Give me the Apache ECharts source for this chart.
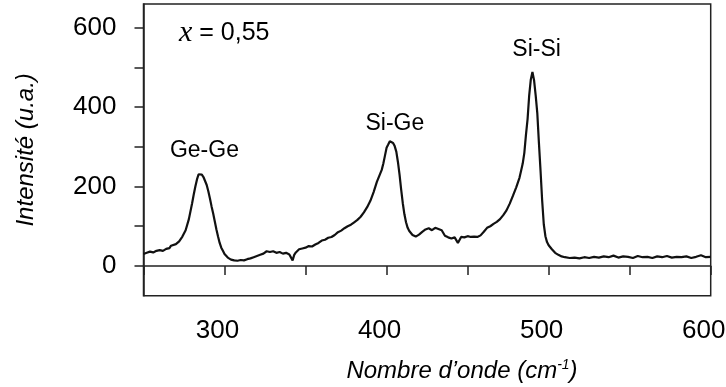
<!DOCTYPE html>
<html>
<head>
<meta charset="utf-8">
<script src="https://cdn.jsdelivr.net/npm/echarts@6/dist/echarts.min.js"></script>
<style>
html,body{margin:0;padding:0;background:#fff;}
#chart{width:726px;height:387px;}
</style>
</head>
<body>
<div id="chart"></div>
<script>
// Raman spectrum, x = 0,55
const wavenumbers = [250,252,254,256,258,260,262,264,266,267,268,270,272,274,276,278,280,281,282,283,284,285,286,287,288,289,290,291,292,293,294,295,296,297,298,299,300,302,304,306,308,310,312,314,316,318,320,322,324,326,327,328,330,332,334,336,338,340,341,342,343,344,346,348,350,352,354,356,358,360,362,364,366,368,370,372,374,376,378,380,382,384,386,388,390,392,394,396,397,398,399,400,401,402,403,404,405,406,407,408,409,410,411,412,413,414,416,418,420,422,424,426,428,430,432,434,436,438,440,442,444,446,448,450,452,454,456,458,460,462,464,466,468,470,472,474,476,478,480,482,483,484,485,486,487,488,489,490,491,492,493,494,495,496,497,498,499,500,502,504,506,508,510,513,516,519,522,525,528,531,534,537,540,543,546,549,552,555,558,561,564,567,570,573,576,579,582,585,588,591,594,597,600];
const intensities = [30,33,36,34,38,40,38,43,45,51,46,55,62,74,90,118,158,180,200,218,231,234,230,224,214,204,188,170,150,132,112,92,74,58,46,38,30,21,16,14,13,15,14,17,19,22,25,28,31,37,41,35,37,33,35,31,33,29,24,14,28,34,42,44,46,50,49,54,58,64,66,71,73,78,85,89,95,100,104,110,116,124,135,148,164,186,212,232,242,258,278,298,306,314,316,310,302,288,262,230,192,158,130,110,96,88,78,74,79,86,92,95,90,96,93,90,76,72,69,72,58,73,72,75,73,74,73,77,86,96,100,106,111,118,128,140,157,177,198,222,240,258,285,330,370,430,470,489,468,430,385,310,240,165,105,75,60,52,42,33,28,24,22,20,21,19,22,20,23,21,24,22,26,21,24,23,20,25,22,23,20,24,22,25,21,23,22,24,20,23,27,22,23];

const xTicks = [300,400,500,600];
const yTicks = [0,100,200,300,400,500,600];
const yTickLabels = [0,200,400,600];

const peakNames = ['Ge-Ge','Si-Ge','Si-Si'];
const peakX = [287.6,405.1,492.6];
const peakY = [291,358,544];

const FONT = '"Liberation Sans", Arial, sans-serif';

const chart = echarts.init(document.getElementById('chart'), null, {renderer:'canvas'});
const seriesData = wavenumbers.map((w,i)=>[w,intensities[i]]);

chart.setOption({
  animation:false,
  backgroundColor:'#fff',
  grid:{left:143.5,right:15.3,top:4,bottom:91.3,show:true,borderColor:'#222',borderWidth:1.5,backgroundColor:'transparent',containLabel:false,outerBoundsMode:'none'},
  xAxis:{
    type:'value',min:250,max:600,interval:50,
    axisLine:{show:true,lineStyle:{color:'#222',width:1.5}},
    axisTick:{show:true,inside:false,length:9,lineStyle:{color:'#222',width:1.5}},
    axisLabel:{
      margin:22,fontSize:26,color:'#000',fontFamily:FONT,hideOverlap:false,
      padding:[0,14,0,0],
      formatter:v=>xTicks.indexOf(v)>=0?String(v):''
    },
    splitLine:{show:false}
  },
  yAxis:{
    type:'value',min:-75,max:660,
    name:'Intensité (u.a.)',nameLocation:'middle',nameGap:105,nameRotate:90,
    nameTextStyle:{fontSize:24,fontStyle:'italic',color:'#000',fontFamily:FONT},
    axisLine:{show:true,lineStyle:{color:'#222',width:1.5}},
    axisTick:{show:true,inside:false,length:9,customValues:yTicks,lineStyle:{color:'#222',width:1.5}},
    axisLabel:{margin:27,fontSize:26,color:'#000',fontFamily:FONT,customValues:yTickLabels},
    splitLine:{show:false}
  },
  series:[{
    type:'line',
    data:seriesData,
    showSymbol:false,
    smooth:false,
    lineStyle:{color:'#111',width:2.2},
    markPoint:{
      symbol:'circle',symbolSize:0,
      label:{show:true,position:'inside',formatter:'{b}',fontSize:23,color:'#000',fontFamily:FONT},
      data:peakNames.map((n,i)=>({name:n,coord:[peakX[i],peakY[i]]}))
    }
  }],
  graphic:[
    {
      type:'text',x:179,y:33,
      style:{
        text:'{v|x}{n| = 0,55}',
        verticalAlign:'middle',align:'left',fill:'#000',
        rich:{
          v:{fontFamily:'"Liberation Serif", "Times New Roman", serif',fontStyle:'italic',fontSize:30,fill:'#000'},
          n:{fontFamily:FONT,fontSize:25,fill:'#000'}
        }
      }
    },
    {
      type:'text',x:462,y:371,
      style:{
        text:'{a|Nombre d’onde (cm}{s|-1}{a|)}',
        align:'center',verticalAlign:'middle',fill:'#000',
        rich:{
          a:{fontFamily:FONT,fontStyle:'italic',fontSize:24,lineHeight:26,fill:'#000'},
          s:{fontFamily:FONT,fontStyle:'italic',fontSize:14,lineHeight:14,verticalAlign:'top',fill:'#000'}
        }
      }
    }
  ]
});
</script>
</body>
</html>
